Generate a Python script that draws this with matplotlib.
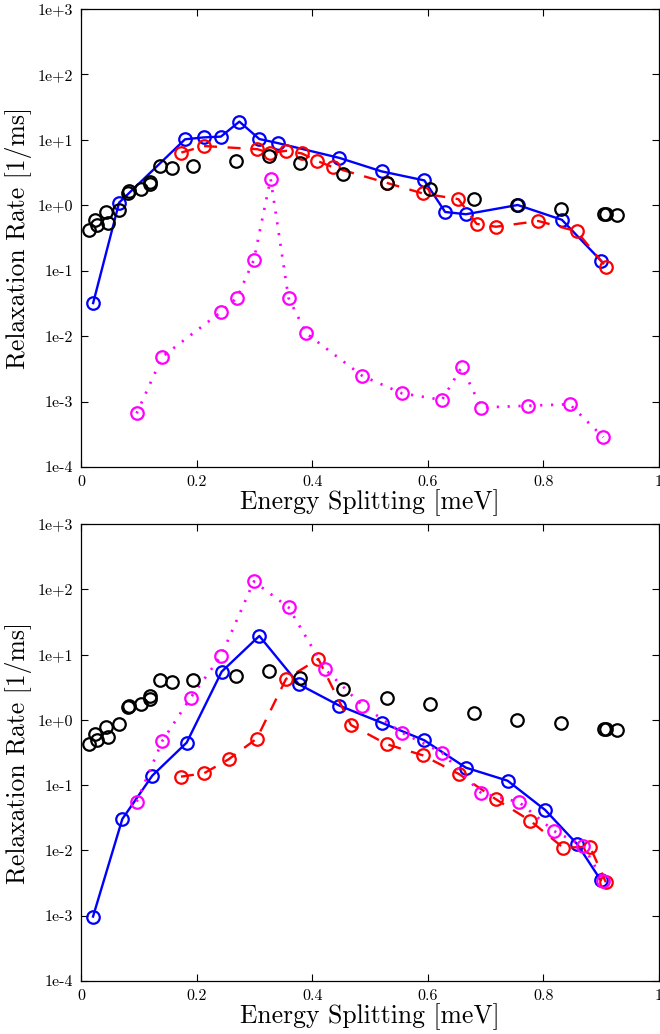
import matplotlib
matplotlib.use("Agg")
import matplotlib.pyplot as plt
import numpy as np

plt.rcParams['font.family'] = ['cmr10', 'DejaVu Serif']
plt.rcParams['mathtext.fontset'] = 'cm'
plt.rcParams['axes.unicode_minus'] = False

# Measured relaxation rates (shared by both panels)
x_exp = [0.014, 0.024, 0.028, 0.043, 0.046, 0.065, 0.081, 0.083, 0.103, 0.119, 0.120,
         0.137, 0.157, 0.193, 0.268, 0.326, 0.379, 0.454, 0.529, 0.604, 0.680, 0.755,
         0.830, 0.904, 0.909, 0.927]
y_exp = [0.42, 0.60, 0.50, 0.79, 0.54, 0.85, 1.56, 1.65, 1.75, 2.11, 2.29,
         4.03, 3.76, 4.03, 4.75, 5.6, 4.4, 3.0, 2.2, 1.78, 1.26, 1.01,
         0.88, 0.73, 0.73, 0.71]

# Upper panel: computed rates
x_top_blue = [0.021, 0.066, 0.180, 0.212, 0.242, 0.274, 0.3085, 0.341, 0.447, 0.520,
              0.594, 0.630, 0.666, 0.7555, 0.832, 0.8997]
y_top_blue = [0.032, 1.1, 10.2, 10.9, 11.2, 19.0, 10.3, 8.9, 5.3, 3.3,
              2.4, 0.79, 0.73, 1.01, 0.60, 0.142]

x_top_red = [0.1736, 0.2128, 0.305, 0.327, 0.355, 0.382, 0.409, 0.4365, 0.529, 0.591,
             0.653, 0.6846, 0.718, 0.791, 0.8576, 0.908]
y_top_red = [6.4, 8.05, 7.2, 6.3, 6.8, 6.2, 4.75, 3.8, 2.2, 1.52,
             1.24, 0.52, 0.47, 0.575, 0.40, 0.115]

x_top_mag = [0.0963, 0.1407, 0.2422, 0.270, 0.299, 0.328, 0.359, 0.390, 0.487, 0.555,
             0.6246, 0.6586, 0.6926, 0.774, 0.8455, 0.9037]
y_top_mag = [6.6e-4, 4.85e-3, 0.0234, 0.0387, 0.146, 2.55, 0.0383, 0.011, 2.46e-3, 1.34e-3,
             1.06e-3, 3.38e-3, 8.1e-4, 8.65e-4, 9.1e-4, 2.85e-4]

# Lower panel: computed rates
x_bot_blue = [0.0208, 0.0715, 0.1234, 0.1828, 0.2434, 0.3085, 0.377, 0.447, 0.520, 0.594,
              0.666, 0.738, 0.803, 0.8587, 0.899]
y_bot_blue = [9.7e-4, 0.0303, 0.14, 0.448, 5.48, 19.3, 3.5, 1.65, 0.905, 0.486,
              0.185, 0.117, 0.0417, 0.0124, 3.53e-3]

x_bot_red = [0.173, 0.2128, 0.2555, 0.304, 0.3547, 0.4106, 0.467, 0.529, 0.591, 0.6546,
             0.7175, 0.777, 0.8344, 0.8806, 0.908]
y_bot_red = [0.135, 0.152, 0.249, 0.515, 4.23, 8.57, 0.835, 0.423, 0.287, 0.147,
             0.061, 0.0286, 0.011, 0.0114, 3.26e-3]

x_bot_mag = [0.0963, 0.1407, 0.1897, 0.2422, 0.299, 0.359, 0.422, 0.487, 0.555, 0.6246,
             0.6926, 0.758, 0.818, 0.869, 0.9037]
y_bot_mag = [0.056, 0.475, 2.19, 9.5, 132, 53, 6.0, 1.65, 0.64, 0.315,
             0.075, 0.055, 0.0199, 0.0117, 3.45e-3]

x_ticks = [0, 0.2, 0.4, 0.6, 0.8, 1]
x_ticklabels = ['0', '0.2', '0.4', '0.6', '0.8', '1']
y_ticks = [1e-4, 1e-3, 1e-2, 1e-1, 1e0, 1e1, 1e2, 1e3]
y_ticklabels = ['1e-4', '1e-3', '1e-2', '1e-1', '1e+0', '1e+1', '1e+2', '1e+3']

W, H = 660, 1034
fig = plt.figure(figsize=(W / 100, H / 100), dpi=100)

ax_top = fig.add_axes([81 / W, 1 - 467 / H, 578 / W, 458 / H])
ax_bot = fig.add_axes([81 / W, 1 - 981 / H, 578 / W, 457 / H])

ms = 9.0
mew = 1.6
lw = 1.7


def draw_panel(ax, xb, yb, xr, yr, xm, ym):
    ax.plot(xb, yb, color='#0000ff', ls='-', lw=lw, marker='o', ms=ms,
            mfc='none', mec='#0000ff', mew=mew, zorder=3)
    ax.plot(xr, yr, color='#ff0000', ls=(0, (5.5, 4.5)), lw=lw, marker='o', ms=ms,
            mfc='none', mec='#ff0000', mew=mew, zorder=4)
    ax.plot(xm, ym, color='#ff00ff', ls=(0, (0.8, 3.2)), lw=lw * 1.15, marker='o', ms=ms,
            mfc='none', mec='#ff00ff', mew=mew, zorder=5)
    ax.plot(x_exp, y_exp, ls='none', marker='o', ms=ms, mfc='none', mec='black',
            mew=mew, zorder=6)
    ax.set_yscale('log')
    ax.set_xlim(0, 1)
    ax.set_ylim(1e-4, 1e3)
    ax.set_xticks(x_ticks)
    ax.set_xticklabels(x_ticklabels)
    ax.set_yticks(y_ticks)
    ax.set_yticklabels(y_ticklabels)
    ax.minorticks_off()
    ax.tick_params(direction='in', length=5, width=0.8, top=True, right=True,
                   labelsize=11.5, pad=6)
    for s in ax.spines.values():
        s.set_linewidth(0.9)
    ax.set_xlabel('Energy Splitting [meV]', fontsize=18.5, labelpad=0)
    ax.set_ylabel('Relaxation Rate [1/ms]', fontsize=18.5, labelpad=4)


draw_panel(ax_top, x_top_blue, y_top_blue, x_top_red, y_top_red, x_top_mag, y_top_mag)
draw_panel(ax_bot, x_bot_blue, y_bot_blue, x_bot_red, y_bot_red, x_bot_mag, y_bot_mag)

fig.savefig('out.png', dpi=100)
